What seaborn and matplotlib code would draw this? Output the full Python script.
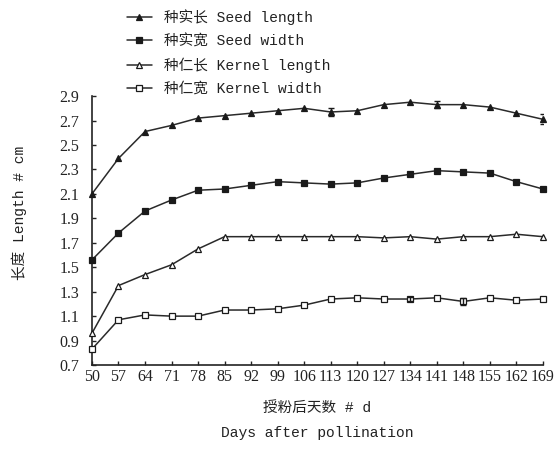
import numpy as np
import pandas as pd
import matplotlib
matplotlib.use("Agg")
import matplotlib.pyplot as plt
import seaborn as sns

days = [50, 57, 64, 71, 78, 85, 92, 99, 106, 113, 120, 127, 134, 141, 148, 155, 162, 169]

seed_length = [2.10, 2.39, 2.61, 2.66, 2.72, 2.74, 2.76, 2.78, 2.80, 2.77, 2.78, 2.83, 2.85, 2.83, 2.83, 2.81, 2.76, 2.71]
seed_width = [1.56, 1.78, 1.96, 2.05, 2.13, 2.14, 2.17, 2.20, 2.19, 2.18, 2.19, 2.23, 2.26, 2.29, 2.28, 2.27, 2.20, 2.14]
kernel_length = [0.96, 1.35, 1.44, 1.52, 1.65, 1.75, 1.75, 1.75, 1.75, 1.75, 1.75, 1.74, 1.75, 1.73, 1.75, 1.75, 1.77, 1.75]
kernel_width = [0.83, 1.07, 1.11, 1.10, 1.10, 1.15, 1.15, 1.16, 1.19, 1.24, 1.25, 1.24, 1.24, 1.25, 1.22, 1.25, 1.23, 1.24]

seed_length_err = [0, 0, 0, 0, 0, 0, 0, 0, 0, 0.03, 0, 0, 0, 0.03, 0, 0, 0, 0.04]
seed_width_err = [0] * 18
kernel_length_err = [0] * 18
kernel_width_err = [0, 0, 0, 0, 0, 0, 0, 0, 0, 0, 0, 0, 0.02, 0, 0.03, 0, 0, 0]

series_names = ["种实长 Seed length", "种实宽 Seed width", "种仁长 Kernel length", "种仁宽 Kernel width"]
y_ticks = [0.7, 0.9, 1.1, 1.3, 1.5, 1.7, 1.9, 2.1, 2.3, 2.5, 2.7, 2.9]

sns.set_theme(style="ticks")
plt.rcParams["font.family"] = ["Liberation Serif", "Noto Sans CJK SC"]
mixed = ["Liberation Mono", "Noto Sans CJK SC"]
ink = "#222222"

fig = plt.figure(figsize=(5.54, 4.49), dpi=100)
ax = fig.add_axes([0.166, 0.187, 0.814, 0.599])

values = [seed_length, seed_width, kernel_length, kernel_width]
errors = [seed_length_err, seed_width_err, kernel_length_err, kernel_width_err]
markers = ["^", "s", "^", "s"]
faces = ["#1a1a1a", "#1a1a1a", "white", "white"]

df = pd.DataFrame({
    "day": np.tile(days, 4),
    "value": np.concatenate(values),
    "series": np.repeat(series_names, len(days)),
})

for name, m, fc, err in zip(series_names, markers, faces, errors):
    sub = df[df["series"] == name]
    sns.lineplot(data=sub, x="day", y="value", ax=ax, color="#2a2a2a", lw=1.1,
                 marker=m, markersize=4.5, markerfacecolor=fc,
                 markeredgecolor="#1a1a1a", markeredgewidth=0.9,
                 label=name, clip_on=False, zorder=3)
    e = np.array(err)
    mask = e > 0
    if mask.any():
        ax.errorbar(np.array(days)[mask], sub["value"].values[mask], yerr=e[mask],
                    fmt="none", ecolor="#1a1a1a", elinewidth=1.0, capsize=2.2,
                    capthick=1.0, zorder=4)

ax.set_xlim(50, 169)
ax.set_ylim(0.7, 2.9)
ax.set_xticks(days)
ax.set_xticklabels([str(d) for d in days], fontsize=11.5)
ax.set_yticks(y_ticks)
ax.set_yticklabels([f"{v:.1f}" for v in y_ticks], fontsize=11.5)
ax.tick_params(axis="both", direction="in", length=3, width=1, colors=ink)
ax.tick_params(axis="y", pad=9)
ax.tick_params(axis="x", pad=3)
sns.despine(ax=ax)
for s in ["left", "bottom"]:
    ax.spines[s].set_linewidth(1.2)
    ax.spines[s].set_color(ink)

ax.set_xlabel("授粉后天数 # d\nDays after pollination", fontsize=10.5,
              family=mixed, linespacing=2.0, color=ink)
ax.xaxis.set_label_coords(0.5, -0.135)
ax.set_ylabel("长度 Length # cm", fontsize=10.5, family=mixed, color=ink)
ax.yaxis.set_label_coords(-0.145, 0.565)

handles, labels = ax.get_legend_handles_labels()
leg = ax.legend(handles, labels, loc="upper left", bbox_to_anchor=(0.205, 1.008),
                bbox_transform=fig.transFigure, frameon=False,
                prop={"family": mixed, "size": 10.5},
                handlelength=1.75, handletextpad=0.8, labelspacing=0.62,
                markerscale=0.9)
for t in leg.get_texts():
    t.set_color(ink)

fig.savefig("out.png", dpi=100)
